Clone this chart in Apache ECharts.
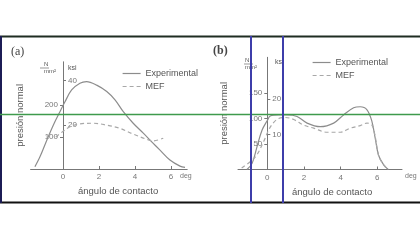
<!DOCTYPE html>
<html><head><meta charset="utf-8">
<script src="https://cdn.jsdelivr.net/npm/echarts@6/dist/echarts.min.js"></script>
<style>html,body{margin:0;padding:0;background:#fff}#c{width:420px;height:240px}</style>
</head><body><div id="c"></div>
<script>
// ---- data ----
const seriesNames = ['Experimental', 'MEF'];
// panel (a)
const angExpA  = [-1.56,-1.28,-0.9,-0.54,-0.17,0.11,0.48,0.94,1.31,1.87,2.43,2.89,3.35,3.9,4.46,4.93,5.39,5.94,6.5,6.78];
const presExpA = [7,38,90,137,179,210,247,268,273,262,242,216,179,143,112,85,59,28,9,5];
const angMefA  = [-0.4,0.11,0.39,0.94,1.69,2.43,3.17,3.9,4.65,5.0,5.57];
const presMefA = [100,122,132,141,143,137,127,109,93,88,96];
// panel (b)
const angExpB  = [-1.11,-0.83,-0.56,-0.29,0,0.16,0.62,1.07,1.62,2.17,2.89,3.62,4.16,4.71,5.07,5.44,5.71,5.89,6.07,6.35,6.6];
const presExpB = [0,12,45,77,96,105,107,107,104,91,84,91,107,121,123,117,94,61,28,9,0];
const angMefB  = [-1.4,-0.65,-0.2,0.07,0.34,0.62,1.0,1.44,1.98,2.53,3.26,3.98,4.53,5.07,5.44,5.71,5.89,6.07,6.35,6.6];
const presMefB = [3,25,55,77,92,100,102,98,87,81,73,73,81,86,91,87,64,28,9,0];
// ticks
const xTicks = [0, 2, 4, 6];
const yTicksA = [100, 200];
const ksiTicksA = [20, 40];
const yTicksB = [50, 100, 150];
const ksiTicksB = [10, 20];
const KSI = 6.895; // N/mm² per ksi

const zip = (a, b) => a.map((v, i) => [v, b[i]]);
const FONT = 'Liberation Sans, Arial, sans-serif';
const axisCol = '#777';
const txtCol = '#555';

function xAxis(grid, min, max) {
  return {
    gridIndex: grid, type: 'value', min: min, max: max,
    axisLine: { onZero: false, lineStyle: { color: axisCol, width: 1 } },
    splitLine: { show: false },
    axisTick: { customValues: xTicks, inside: true, length: 3, lineStyle: { color: axisCol } },
    axisLabel: { customValues: xTicks, margin: 4, fontSize: 8, color: '#777', fontFamily: FONT }
  };
}
function yAxis(grid, max, ticks, offset, withName) {
  const o = {
    gridIndex: grid, type: 'value', min: 0, max: max, position: 'left', offset: offset,
    axisLine: { show: true, onZero: false, lineStyle: { color: axisCol, width: 1 } },
    splitLine: { show: false },
    axisTick: { customValues: ticks, length: 3, lineStyle: { color: axisCol } },
    axisLabel: { customValues: ticks, margin: 5, fontSize: 8, color: '#777', fontFamily: FONT }
  };
  if (withName) {
    o.name = 'presión normal'; o.nameLocation = 'middle'; o.nameGap = 38;
    o.nameTextStyle = { fontSize: 9.5, color: txtCol, fontFamily: FONT };
  }
  return o;
}
function ksiAxis(grid, max, ticks, offset) {
  return {
    gridIndex: grid, type: 'value', min: 0, max: max, position: 'left', offset: offset,
    axisLine: { show: false, onZero: false },
    splitLine: { show: false },
    axisTick: { customValues: ticks, inside: true, length: 3, lineStyle: { color: axisCol } },
    axisLabel: { customValues: ticks, inside: true, margin: 5, fontSize: 8, color: '#777', fontFamily: FONT }
  };
}
const expStyle = { color: '#8c8c8c', width: 1.2 };
const mefStyle = { color: '#a8a8a8', width: 1.2, type: [4, 3] };
function line(name, xi, yi, data, style) {
  return { name: name, type: 'line', xAxisIndex: xi, yAxisIndex: yi, data: data,
    smooth: 0.35, symbol: 'none', lineStyle: style, itemStyle: { color: style.color }, z: 3 };
}
const maxA = 335, maxB = 220;
const legendBase = { orient: 'vertical', itemWidth: 18, itemHeight: 8, itemGap: 4,
  itemStyle: { opacity: 0 }, lineStyle: { width: 1.2 },
  textStyle: { fontSize: 9, color: txtCol, fontFamily: FONT }, data: seriesNames };

const chart = echarts.init(document.getElementById('c'), null, { renderer: 'canvas' });
chart.setOption({
  animation: false,
  backgroundColor: '#fff',
  grid: [
    { left: 30.6, top: 61.8, width: 156.6, height: 107.2 },
    { left: 238, top: 57.3, width: 164, height: 112.2 }
  ],
  xAxis: [xAxis(0, -1.8, 6.9), xAxis(1, -1.6, 7.35)],
  yAxis: [
    yAxis(0, maxA, yTicksA, -32.4, true),
    ksiAxis(0, maxA / KSI, ksiTicksA, -32.4),
    yAxis(1, maxB, yTicksB, -29.3, true),
    ksiAxis(1, maxB / KSI, ksiTicksB, -29.3)
  ],
  legend: [
    Object.assign({ left: 117, top: 64 }, legendBase),
    Object.assign({ left: 307, top: 53 }, legendBase)
  ],
  series: [
    line(seriesNames[0], 0, 0, zip(angExpA, presExpA), expStyle),
    line(seriesNames[1], 0, 0, zip(angMefA, presMefA), mefStyle),
    line(seriesNames[0], 1, 2, zip(angExpB, presExpB), expStyle),
    line(seriesNames[1], 1, 2, zip(angMefB, presMefB), mefStyle)
  ],
  graphic: [
    // panel texts
    { type: 'text', left: 11, top: 46, style: { text: '(a)', font: '12px Liberation Serif, serif', fill: '#444' } },
    { type: 'text', left: 213, top: 45, style: { text: '(b)', font: 'bold 12px Liberation Serif, serif', fill: '#444' } },
    { type: 'text', left: 44, top: 61, style: { text: 'N\nmm²', font: '6px ' + FONT, fill: txtCol, align: 'center', lineHeight: 7 } },
    { type: 'line', shape: { x1: 40, y1: 68, x2: 49, y2: 68 }, style: { stroke: txtCol, lineWidth: 0.6 } },
    { type: 'text', left: 68, top: 65, style: { text: 'ksi', font: '7px ' + FONT, fill: txtCol } },
    { type: 'text', left: 245, top: 57, style: { text: 'N\nmm²', font: '6px ' + FONT, fill: txtCol, align: 'center', lineHeight: 7 } },
    { type: 'line', shape: { x1: 244, y1: 64, x2: 253, y2: 64 }, style: { stroke: txtCol, lineWidth: 0.6 } },
    { type: 'text', left: 275, top: 59, style: { text: 'ksi', font: '7px ' + FONT, fill: txtCol } },
    { type: 'text', left: 180, top: 173, style: { text: 'deg', font: '7px ' + FONT, fill: '#777' } },
    { type: 'text', left: 405, top: 173, style: { text: 'deg', font: '7px ' + FONT, fill: '#777' } },
    { type: 'text', left: 78, top: 186, style: { text: 'ángulo de contacto', font: '9.5px ' + FONT, fill: txtCol } },
    { type: 'text', left: 292, top: 187, style: { text: 'ángulo de contacto', font: '9.5px ' + FONT, fill: txtCol } },
    // overlay frame lines
    { type: 'line', z: 100, shape: { x1: 0, y1: 36.5, x2: 420, y2: 36.5 }, style: { stroke: '#1f2d22', lineWidth: 2 } },
    { type: 'line', z: 100, shape: { x1: 0, y1: 202.5, x2: 420, y2: 202.5 }, style: { stroke: '#111', lineWidth: 2 } },
    { type: 'line', z: 100, shape: { x1: 1, y1: 36, x2: 1, y2: 203 }, style: { stroke: '#1c1c55', lineWidth: 2 } },
    { type: 'line', z: 100, shape: { x1: 0, y1: 114.5, x2: 420, y2: 114.5 }, style: { stroke: '#3f9a4c', lineWidth: 1.5 } },
    { type: 'line', z: 100, shape: { x1: 251, y1: 36, x2: 251, y2: 203 }, style: { stroke: '#3d3daa', lineWidth: 2 } },
    { type: 'line', z: 100, shape: { x1: 283, y1: 36, x2: 283, y2: 203 }, style: { stroke: '#3d3daa', lineWidth: 2 } }
  ]
});
</script></body></html>
